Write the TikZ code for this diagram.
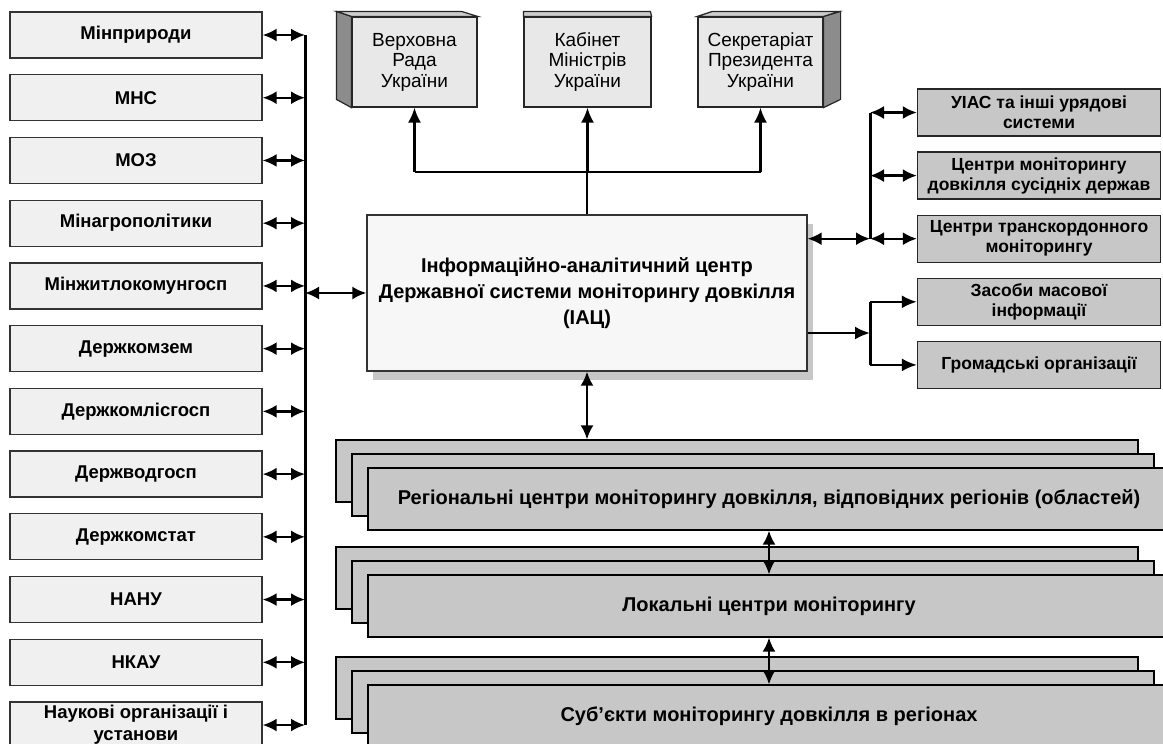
\documentclass[tikz,border=0pt]{standalone}
\usepackage{fontspec}
\setmainfont{Liberation Sans}
\usetikzlibrary{arrows.meta, shadows}
\def\lpitch{62.73}
\def\rpitch{63.1}
\tikzset{
	org/.style={draw=black!80, line width=1.3pt, fill=black!6, minimum width=252pt, minimum height=46pt, inner sep=1pt, align=center, font=\fontsize{18.5}{22}\selectfont\bfseries},
	gov/.style={draw=black!85, line width=1.2pt, fill=black!9, minimum width=125pt, minimum height=90pt, align=center, font=\fontsize{19}{20.5}\selectfont},
	face/.style={draw=black!85, line width=1.2pt, fill=black!#1},
	iacbox/.style={draw=black!80, line width=1.3pt, fill=black!3, minimum width=440pt, minimum height=156pt, align=center, font=\fontsize{20}{26}\selectfont\bfseries, drop shadow={shadow xshift=6pt, shadow yshift=-9pt, fill=black!40, opacity=.55}},
	ext/.style={draw=black!85, line width=1.3pt, fill=black!22, minimum width=243pt, minimum height=47pt, inner sep=1pt, align=center, font=\fontsize{17.5}{20}\selectfont\bfseries},
	layer/.style={draw=black, line width=1.2pt, fill=black!22, minimum width=802pt, minimum height=62pt, font=\fontsize{20}{24}\selectfont\bfseries},
	wire/.style={line width=2.3pt},
	bus/.style={line width=3pt},
	link/.style={wire, {Latex[length=14pt,width=13pt]}-{Latex[length=14pt,width=13pt]}},
	oneway/.style={wire, -{Latex[length=15pt,width=13pt]}}
}

\begin{document}
\begin{tikzpicture}[x=1pt, y=-1pt]
	\clip (0,0) rectangle (1163,744);
	\fill[white] (0,0) rectangle (1163,744);

	% ministries on the left
	\foreach \txt [count=\i] in {Мінприроди, МНС, МОЗ, Мінагрополітики, Мінжитлокомунгосп, Держкомзем, Держкомлісгосп, Держводгосп, Держкомстат, НАНУ, НКАУ, {Наукові організації і\\установи}}
		\node[org] (l\i) at (136, {35+(\i-1)*\lpitch}) {\txt};
	\coordinate (lbus) at (305,0);
	\draw[bus] (l1.east -| lbus) -- (l12.east -| lbus);
	\foreach \i in {1,...,12}
		\draw[link] (l\i.east) -- (l\i.east -| lbus);

	% centre
	\node[iacbox] (iac) at (587,293) {Інформаційно-аналітичний центр\\Державної системи моніторингу довкілля\\(ІАЦ)};
	\draw[link] (iac.west) -- (iac.west -| lbus);

	% top boxes
	\node[gov] (t1) at (414.5,62) {Верховна\\Рада\\України};
	\node[gov, minimum width=127pt] (t2) at (587.5,62) {Кабінет\\Міністрів\\України};
	\node[gov] (t3) at (760.5,62) {Секретаріат\\Президента\\України};
	\filldraw[face=45] (t1.north west) -- ++(-15,-5) -- ++(0,88) -- (t1.south west) -- cycle;
	\filldraw[face=20] (t1.north west) -- ++(-15,-5) -- ++(125,0) -- (t1.north east) -- cycle;
	\filldraw[face=20] (t2.north west) -- ++(0,-5) -- ++(127,0) -- (t2.north east) -- cycle;
	\filldraw[face=45] (t3.north east) -- ++(17,-5) -- ++(0,88) -- (t3.south east) -- cycle;
	\filldraw[face=20] (t3.north west) -- ++(15,-5) -- ++(127,0) -- (t3.north east) -- cycle;
	\coordinate (tbus) at (587,172);
	\draw[wire] (iac.north) -- (iac.north |- tbus);
	\draw[wire] (t1.south |- tbus) -- (t3.south |- tbus);
	\foreach \i in {1,2,3}
		\draw[oneway] (t\i.south |- tbus) -- (t\i.south);

	% right side
	\foreach \txt [count=\i] in {{УІАС та інші урядові\\системи}, {Центри моніторингу\\довкілля сусідніх держав}, {Центри транскордонного\\моніторингу}, {Засоби масової\\інформації}, Громадські організації}
		\node[ext] (r\i) at (1039, {112.5+(\i-1)*\rpitch}) {\txt};
	\coordinate (rbus) at (870,0);
	\coordinate (mpt) at (870,333);
	\draw[bus] (r1.west -| rbus) -- (r3.west -| rbus);
	\draw[link] (iac.east |- r3.west) -- (r3.west -| rbus);
	\foreach \i in {1,2,3}
		\draw[link] (r\i.west -| rbus) -- (r\i.west);
	\draw[oneway] (iac.east |- mpt) -- (mpt);
	\draw[bus] (r4.west -| rbus) -- (r5.west -| rbus);
	\foreach \i in {4,5}
		\draw[oneway] (r\i.west -| rbus) -- (r\i.west);

	% stacked levels below
	\foreach \nm/\y/\txt in {reg/471/{Регіональні центри моніторингу довкілля, відповідних регіонів (областей)}, loc/578/{Локальні центри моніторингу}, sub/688/{Суб’єкти моніторингу довкілля в регіонах}} {
		\node[layer] (\nm-a) at (737,\y) {};
		\node[layer] (\nm-b) at (753,\y+14) {};
		\node[layer] (\nm) at (769,\y+28) {\txt};
	}
	\draw[link] (iac.south) -- (iac.south |- reg-a.north);
	\draw[link] (reg.south) -- (loc.north);
	\draw[link] (loc.south) -- (sub.north);
\end{tikzpicture}
\end{document}
